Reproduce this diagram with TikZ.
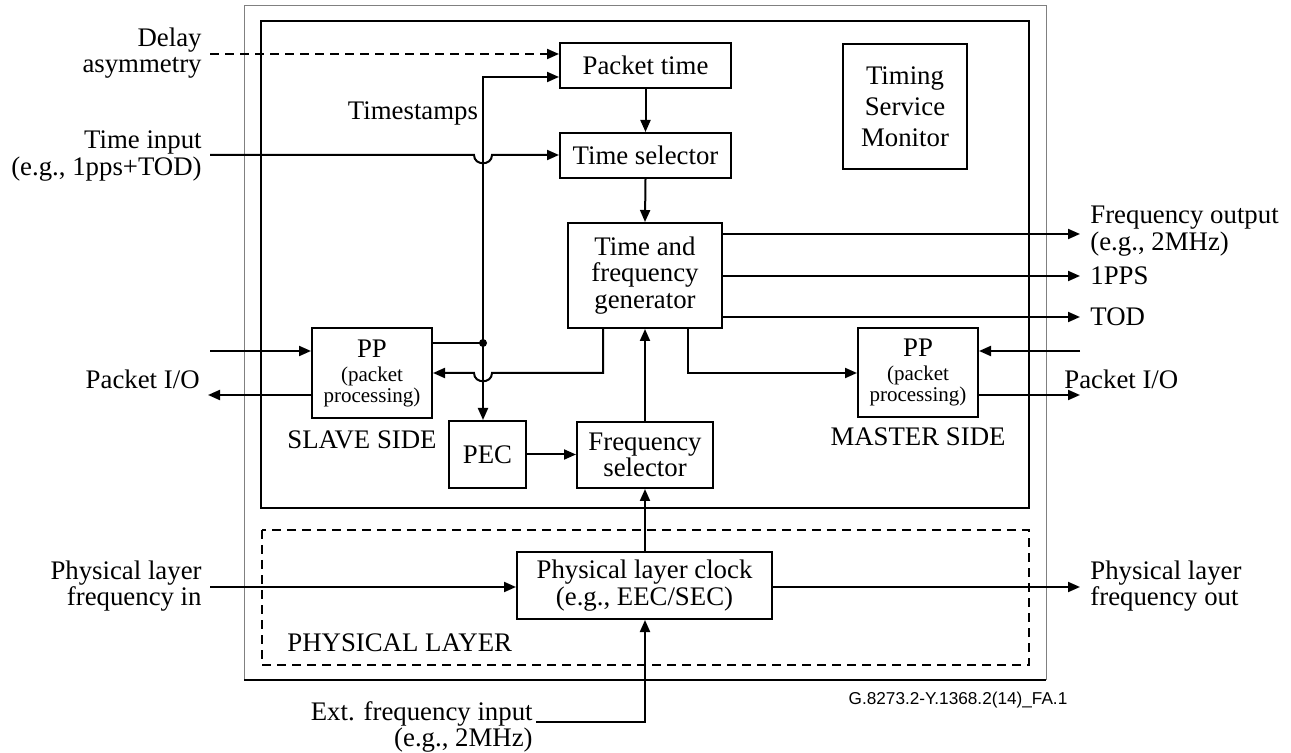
\documentclass[tikz,border=0pt]{standalone}
\usepackage{fontspec}
\setmainfont{Liberation Serif}
\newfontfamily\footfont{Liberation Sans}
\usetikzlibrary{arrows.meta,calc}
\newcommand\smallf{\fontsize{10.5}{10.5}\selectfont}
\begin{document}
\begin{tikzpicture}[x=0.5pt,y=-0.5pt,
  blk/.style={draw, line width=1pt, inner sep=0pt, align=center, font=\fontsize{13.4}{13.3}\selectfont},
  lbl/.style={inner sep=0pt, align=center, font=\fontsize{13.4}{13.3}\selectfont},
  conn/.style={line width=1pt, -{Triangle[length=6pt,width=5pt]}},
  wire/.style={line width=1pt},
  dsh/.style={dash pattern=on 4.5pt off 3pt}
]
\useasboundingbox (0,0) rectangle (1291,753);
% frames
\draw[gray, line width=0.5pt] (244,680) -- (244,6) -- (1046,6) -- (1046,680);
\draw[line width=0.8pt] (244,680) -- (1046,680);
\draw[wire] (261,21) rectangle (1029,508);
\draw[wire, dsh] (262,530) rectangle (1029,665);

% blocks
\node[blk, minimum width=85.5pt, minimum height=22.5pt] (pt) at (645.5,65.5) {Packet time};
\node[blk, minimum width=85.5pt, minimum height=22.5pt] (tsel) at (645.5,155.5) {Time selector};
\node[blk, minimum width=77pt, minimum height=52.5pt] (gen) at (645,275.5) {Time and\\frequency\\generator};
\node[blk, minimum width=60pt, minimum height=45pt] (spp) at (372,373) {PP\\[-1.3pt]{\smallf (packet}\\[-2.8pt]{\smallf processing)}};
\node[blk, minimum width=60pt, minimum height=44.5pt] (mpp) at (918,372.5) {PP\\[-1.3pt]{\smallf (packet}\\[-2.8pt]{\smallf processing)}};
\node[blk, minimum width=38.5pt, minimum height=33.5pt] (pec) at (487.5,454.5) {PEC};
\node[blk, minimum width=68pt, minimum height=33pt] (fs) at (645,455) {Frequency\\selector};
\node[blk, minimum width=127.5pt, minimum height=33.5pt] (plc) at (644.5,585.5) {Physical layer clock\\(e.g., EEC/SEC)};
\node[blk, minimum width=62pt, minimum height=62.5pt, font=\fontsize{13.4}{15.5}\selectfont] (tsm) at (905,106.5) {Timing\\Service\\Monitor};

% coordinates
\coordinate (dot) at (483,343);
\coordinate (tsc) at (483,77);
\coordinate (dly) at (210,54);
\coordinate (tin) at (210,155);
\coordinate (b1) at (474,155);
\coordinate (b2) at (492,155);
\coordinate (fo) at (1080,234);
\coordinate (opps) at (1080,276);
\coordinate (otod) at (1080,317);
\coordinate (gm) at (688,373);
\coordinate (gs) at (603,373);
\coordinate (c1) at (492,373);
\coordinate (c2) at (474,373);
\coordinate (min) at (1080,351);
\coordinate (mout) at (1080,395);
\coordinate (sin) at (210,351);
\coordinate (sout) at (208,395);
\coordinate (pin) at (210,587);
\coordinate (pout) at (1080,587);
\coordinate (ext) at (536,722);

% connectors
\draw[wire] (spp.east |- dot) -- (dot);
\fill (dot) circle[radius=2pt];
\draw[conn] (dot) -- (tsc) -- (tsc -| pt.west);
\draw[conn] (dot) -- (dot |- pec.north);
\draw[conn, dsh] (dly) -- (dly -| pt.west);
\draw[conn] (tin) -- (b1) .. controls ($(b1)+(0,11)$) and ($(b2)+(0,11)$) .. (b2) -- (tin -| tsel.west);
\draw[conn] (pt.south) -- (tsel.north);
\draw[conn] (tsel.south) -- (gen.north);
\draw[conn] (fs.north) -- (gen.south);
\draw[conn] (fs.south |- plc.north) -- (fs.south);
\draw[conn] (ext) -- (ext -| fs.south) -- (fs.south |- plc.south);
\draw[conn] (pec.east) -- (pec.east -| fs.west);
\draw[conn] (gen.east |- fo) -- (fo);
\draw[conn] (gen.east |- opps) -- (opps);
\draw[conn] (gen.east |- otod) -- (otod);
\draw[conn] (gen.south -| gm) -- (gm) -- (gm -| mpp.west);
\draw[conn] (min) -- (min -| mpp.east);
\draw[conn] (mout -| mpp.east) -- (mout);
\draw[conn] (gen.south -| gs) -- (gs) -- (c1) .. controls ($(c1)+(0,11)$) and ($(c2)+(0,11)$) .. (c2) -- (gs -| spp.east);
\draw[conn] (sin) -- (sin -| spp.west);
\draw[conn] (sout -| spp.west) -- (sout);
\draw[conn] (pin) -- (pin -| plc.west);
\draw[conn] (pin -| plc.east) -- (pout);

% labels
\node[lbl, anchor=east, align=right] (ldly) at (202,53) {Delay\\asymmetry};
\node[lbl, anchor=east, align=right] (ltin) at (202,156) {Time input\\(e.g., 1pps+TOD)};
\node[lbl] (lts) at (413,113) {Timestamps};
\node[lbl, anchor=east] (lpio1) at (200,379) {Packet I/O};
\node[lbl, anchor=west] (lpio2) at (1064,379) {Packet I/O};
\node[lbl] (lslave) at (362,440) {SLAVE SIDE};
\node[lbl] (lmaster) at (918,437) {MASTER SIDE};
\node[lbl, anchor=west, align=left] (lfo) at (1090,231) {Frequency output\\(e.g., 2MHz)};
\node[lbl, anchor=west] (lpps) at (1090,276) {1PPS};
\node[lbl, anchor=west] (ltod) at (1090,317) {TOD};
\node[lbl, anchor=east, align=right] (lpin) at (202,586) {Physical layer\\frequency in};
\node[lbl, anchor=west, align=left] (lpout) at (1090,586) {Physical layer\\frequency out};
\node[lbl, anchor=west] (lphy) at (287,643) {PHYSICAL LAYER};
\node[lbl, anchor=east, align=right] (lext) at (533,727) {Ext. frequency input\\(e.g., 2MHz)};
\node[inner sep=0pt, font=\footfont\fontsize{8.6}{10}\selectfont] (foot) at (958,700) {G.8273.2-Y.1368.2(14)\_FA.1};
\end{tikzpicture}
\end{document}
